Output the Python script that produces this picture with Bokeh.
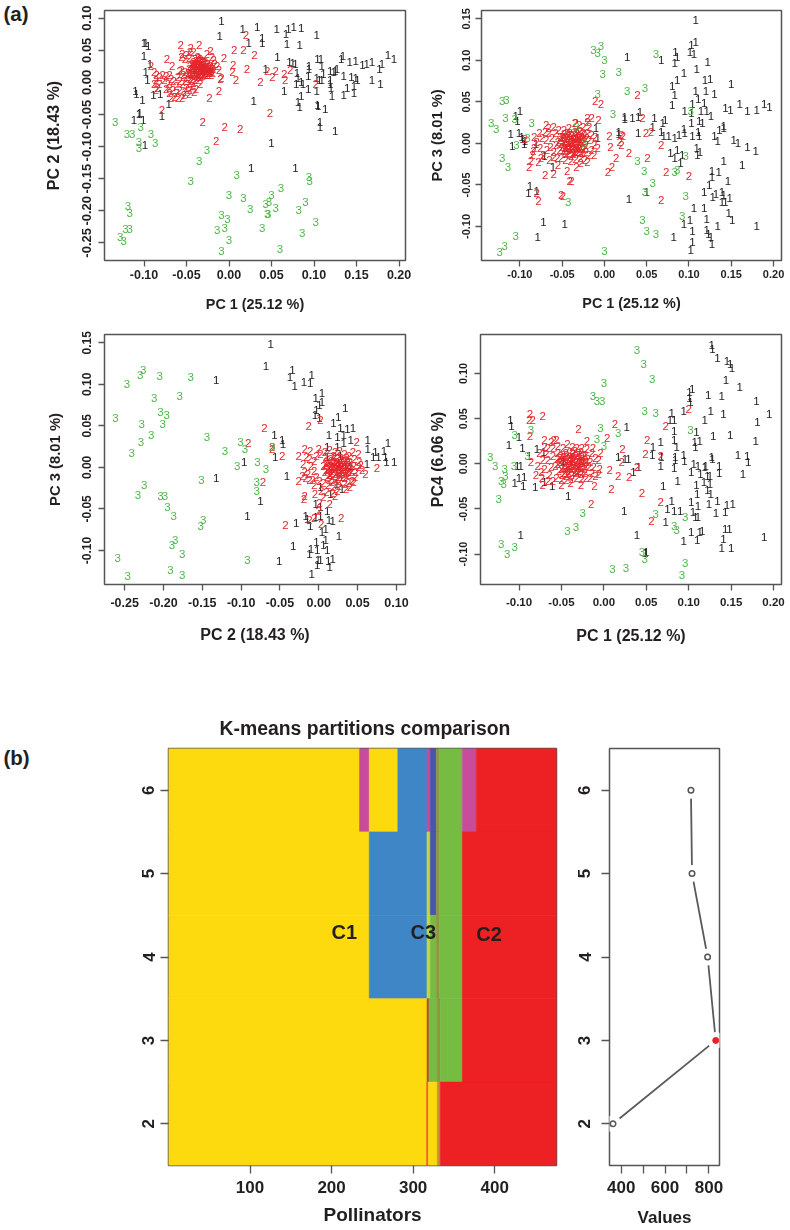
from bokeh.plotting import figure
from bokeh.layouts import column, row
from bokeh.models import ColumnDataSource, FixedTicker, PrintfTickFormatter, Label, Range1d, Title
from bokeh.core.properties import value
from bokeh.embed import file_html
from bokeh.resources import INLINE

FONT = "Liberation Sans"
INK = "#231F20"

# ---------- panel 1: PC1 / PC2 ----------
a1_ones = [(-.009,.096),(-.011,.073),(.016,.083),(.033,.087),(.056,.083),(.067,.076),(.070,.083),(.076,.086),(.085,.085),(.103,.074),
(.023,.062),(.039,.069),(.039,.061),(.068,.060),(.083,.058),(.057,.040),(-.098,.062),(-.100,.061),(-.095,.057),(-.100,.041),(-.093,.028),
(.071,.032),(.075,.030),(.078,.029),(.094,.026),(.104,.037),(.108,.037),(.094,.021),(.109,.025),(.134,.041),(.142,.032),(.149,.033),(.132,.036),
(.187,.043),(.194,.036),(.177,.021),(.180,.028),(.168,.031),(.162,.028),(.157,.027),(.043,.021),(-.098,.016),(-.096,.004),(-.110,-.013),(-.109,-.018),
(-.102,-.028),(-.089,-.019),(-.081,-.018),(-.071,-.034),(-.105,-.047),(-.106,-.049),(-.112,-.058),(-.101,-.058),(-.079,-.052),(-.099,-.097),(.029,-.029),
(.065,-.013),(.080,.014),(.081,.007),(.079,-.002),(.085,.001),(.087,-.002),(.093,.010),(.093,-.010),(.103,.007),(.103,-.013),(.109,.004),(.106,.003),
(.111,.013),(.119,.017),(.125,.018),(.123,.016),(.127,.021),(.135,.010),(.119,.003),(.119,-.003),(.120,-.009),(.121,-.021),(.135,-.020),(.139,-.009),
(.147,-.005),(.147,-.017),(.144,.009),(.149,.007),(.151,.003),(.168,.003),(.178,-.003),(.085,-.021),(.081,-.031),(.083,-.039),(.104,-.035),(.105,-.037),
(.113,-.041),(.107,-.061),(.107,-.070),(.125,-.076),(.050,-.094),(.026,-.133),(.078,-.133)]
a1_twos = [(.020,.074),(.006,.051),(.017,.051),(.030,.043),(-.057,.059),(-.045,.054),(-.035,.059),(-.022,.049),(-.006,.038),(-.073,.036),(-.067,.026),
(-.092,.026),(.005,.027),(.004,.016),(.021,.021),(.045,.018),(.055,.018),(.065,.013),(.072,.020),(.037,.001),(.051,.008),(.066,.003),(.008,.003),
(-.009,.007),(-.010,.005),(-.012,-.014),(-.023,-.025),(-.079,-.043),(.048,-.048),(-.031,-.061),(-.005,-.070),(.013,-.072),(-.015,-.092),(.102,-.003),
(-.037,.040),(-.034,.037),(-.040,.036),(-.031,.034),(-.036,.033),(-.042,.032),(-.028,.031),(-.033,.030),(-.038,.029),(-.044,.028),(-.025,.028),(-.030,.027),
(-.035,.026),(-.040,.026),(-.046,.025),(-.022,.025),(-.027,.024),(-.032,.023),(-.037,.023),(-.043,.022),(-.024,.021),(-.019,.021),(-.029,.020),(-.034,.020),
(-.039,.019),(-.045,.019),(-.021,.018),(-.026,.018),(-.031,.017),(-.036,.016),(-.042,.016),(-.048,.015),(-.023,.015),(-.028,.014),(-.033,.013),(-.019,.014),
(-.038,.012),(-.044,.012),(-.026,.011),(-.031,.010),(-.036,.009),(-.021,.011),
(-.055,.045),(-.050,.043),(-.046,.048),(-.052,.036),(-.047,.038),(-.042,.047),(-.056,.040),(-.026,.045),(-.020,.040),(-.017,.028),(-.014,.025),(-.012,.020),
(-.018,.035),(-.056,.020),(-.052,.016),(-.054,.012),(-.050,.008),(-.046,.006),(-.058,.018),
(-.045,.002),(-.048,-.002),(-.043,-.006),(-.050,-.008),(-.046,-.012),(-.052,-.015),(-.047,-.018),(-.040,.004),(-.042,-.001),(-.039,-.010),(-.055,-.003),
(-.058,.002),(-.060,.008),(-.062,-.005),(-.065,.002),(-.068,.006),(-.070,.012),(-.074,.010),(-.078,.012),(-.082,.008),(-.085,.012),(-.088,.016),(-.086,.004),
(-.088,-.002),(-.084,-.008),(-.086,-.012),(-.082,-.003),(-.076,.003),(-.072,-.002),(-.070,-.008),(-.066,-.012),(-.062,-.016),(-.058,-.012),(-.064,-.022),
(-.068,-.024),(-.060,-.025),(-.055,-.024),(-.053,-.020),(-.070,-.016),(-.074,-.010),(-.036,.003),(-.034,-.002),(-.052,.002),(-.041,-.015),
(-.036,.038),(-.033,.034),(-.039,.033),(-.030,.031),(-.035,.029),(-.041,.029),(-.027,.028),(-.032,.026),(-.037,.026),(-.043,.025),(-.024,.024),(-.029,.023),
(-.034,.023),(-.040,.022),(-.021,.022),(-.026,.021),(-.031,.021),(-.036,.020),(-.042,.019),(-.047,.021),(-.023,.018),(-.028,.017),(-.033,.017),(-.038,.016),
(-.044,.015),(-.020,.016),(-.025,.014),(-.030,.013),(-.035,.013),(-.041,.013),(-.024,.012),(-.029,.011),(-.034,.011),(-.046,.013),(-.039,.010),(-.033,.009)]
a1_threes = [(-.134,-.061),(-.120,-.081),(-.114,-.081),(-.104,-.069),(-.092,-.080),(-.106,-.093),(-.106,-.102),(-.087,-.095),(-.026,-.105),(-.035,-.122),
(-.045,-.154),(.009,-.145),(0,-.176),(.017,-.180),(.025,-.197),(.050,-.176),(.047,-.186),(.043,-.189),(.055,-.196),(.046,-.205),(.045,-.205),(.061,-.165),
(.094,-.148),(.095,-.153),(.090,-.186),(.082,-.199),(.102,-.217),(.086,-.234),(.060,-.259),(.039,-.227),(-.009,-.207),(-.002,-.213),(-.005,-.227),(-.014,-.230),
(0,-.246),(-.009,-.263),(-.119,-.192),(-.117,-.203),(-.122,-.229),(-.117,-.229),(-.128,-.241),(-.124,-.247)]

# ---------- panel 2: PC1 / PC3 ----------
a2_ones = [(.108,.148),(.108,.122),(.103,.118),(.106,.108),(.101,.110),(.084,.110),(.086,.104),(.083,.097),(.067,.100),(.027,.104),(.122,.098),(.109,.089),
(.094,.085),(.086,.076),(.080,.069),(.083,.058),(.119,.076),(.125,.078),(.150,.071),(.108,.063),(.120,.063),(.130,.059),(.111,.053),(.118,.049),(.080,.046),
(.104,.047),(.095,.039),(.103,.037),(.114,.039),(.121,.039),(.126,.033),(.143,.043),(.149,.040),(.160,.047),(.169,.039),(.180,.040),(.189,.047),(.195,.044),
(.103,.025),(.112,.027),(.116,.025),(.136,.016),(.141,.018),(.141,.021),(.072,.028),(.069,.024),(.059,.031),(.024,.032),(.024,.029),(.033,.031),(.040,.032),
(.042,.038),(.057,.020),(.040,.013),(.017,.014),(.067,.014),(.070,.009),(.076,.009),(.083,.007),(.088,.010),(.094,.017),(.095,.013),(.104,.009),(.111,.014),
(.112,.009),(.130,.009),(.134,.003),(.153,.004),(.158,0),(.169,-.004),(.179,-.009),(.109,-.005),(.113,-.010),(.110,-.014),(.078,-.012),(.086,-.008),(.083,-.018),
(.092,-.014),(.090,-.024),(.141,-.021),(.163,-.026),(.127,-.033),(.135,-.034),(.127,-.041),(.124,-.050),(.146,-.045),(.118,-.059),(.132,-.061),(.128,-.065),
(.139,-.059),(.141,-.062),(.139,-.071),(.143,-.071),(.148,-.066),(.106,-.078),(.118,-.078),(.147,-.084),(.151,-.092),(.101,-.092),(.094,-.097),(.121,-.091),
(.134,-.100),(.104,-.106),(.121,-.104),(.123,-.109),(.126,-.113),(.082,-.113),(.104,-.119),(.102,-.128),(.127,-.121),(.180,-.100),(.029,-.067),(.050,-.059),
(-.072,-.095),(-.047,-.097),(-.079,-.113),(-.088,-.051),(-.090,-.060),(-.080,-.057),(-.100,.039),(-.105,.033),(-.103,.027),(-.111,.011),(-.101,.012),(-.098,.008),
(-.097,.005),(-.094,.003),(-.109,-.003),(-.095,-.001),(-.081,-.001),(-.071,-.015),(-.061,-.028),(-.010,.018),(-.008,.007),(.017,.011)]
a2_twos = [(.039,.058),(-.011,.051),(-.004,.047),(.045,.030),(.049,.013),(.055,.014),(.067,-.002),(.006,.009),(.007,-.004),(.020,.010),(.022,.009),(.018,.002),
(.020,-.002),(.014,-.017),(.029,-.012),(.051,-.018),(.009,-.029),(.004,-.034),(.073,-.034),(.100,-.039),(.067,-.068),(-.041,-.045),(-.039,-.045),(-.051,-.062),
(-.049,-.063),(-.080,-.060),(-.078,-.069),(-.070,-.038),(-.060,-.037),(-.044,-.033),(-.028,-.024),(-.033,-.029),(-.089,-.029),(-.087,-.021),(-.084,-.009),(-.094,.005),
(-.020,.031),(-.015,.031),(-.007,.028),(-.035,.024),(-.069,.022),
(-.055,.002),(-.052,.008),(-.050,-.004),(-.048,.011),(-.047,.003),(-.046,-.009),(-.044,.007),(-.043,-.002),(-.042,-.012),(-.041,.012),(-.040,.004),(-.039,-.007),
(-.038,.009),(-.037,0),(-.036,-.013),(-.035,.014),(-.034,.005),(-.033,-.005),(-.032,.011),(-.031,-.010),(-.030,.002),(-.029,.015),(-.028,-.003),(-.027,.008),
(-.026,-.012),(-.025,.012),(-.024,.003),(-.023,-.006),(-.045,-.013),(-.053,-.008),(-.049,.006),(-.041,-.006),(-.038,.002),(-.035,-.009),(-.032,.007),(-.029,-.007),
(-.026,.005),(-.044,.001),(-.047,-.006),(-.034,.001),(-.030,.009),(-.039,-.015),(-.022,-.002),(-.057,-.002),
(-.062,.006),(-.064,-.004),(-.060,-.010),(-.058,.012),(-.066,.012),(-.069,.004),(-.068,-.008),(-.072,-.014),(-.070,.014),(-.074,.006),(-.077,.012),(-.076,-.006),
(-.080,.002),(-.083,-.006),(-.085,-.014),(-.083,.008),(-.060,-.016),(-.056,-.018),(-.051,-.017),(-.046,-.020),(-.040,-.021),(-.034,-.019),(-.028,-.017),(-.023,-.020),
(-.018,-.014),(-.015,-.008),(-.018,.004),(-.015,.010),(-.012,-.002),(-.011,.008),(-.020,.012),(-.018,.020),(-.025,.020),(-.030,.022),(-.034,.024),(-.042,.018),
(-.048,.016),(-.054,.016),(-.060,.020),(-.066,.018),(-.012,-.014),(-.008,-.005),(-.020,-.023),(-.055,-.026),(-.065,-.020),(-.075,-.018),(-.078,-.022),(-.020,.026),
(-.053,.004),(-.051,-.001),(-.050,.008),(-.048,-.008),(-.046,.006),(-.045,-.003),(-.043,.009),(-.042,-.008),(-.040,.000),(-.039,.010),(-.037,-.005),(-.036,.005),
(-.034,-.010),(-.033,.012),(-.031,-.001),(-.030,.006),(-.028,-.012),(-.027,.002),(-.025,-.007),(-.024,.010),(-.022,-.010),(-.021,.006),(-.044,.012),(-.037,-.011),
(-.041,.007),(-.035,.010),(-.030,-.005),(-.026,.000),(-.048,.002),(-.043,-.005),(-.038,-.003),(-.033,-.001)]
a2_threes = [(-.004,.117),(-.013,.112),(-.008,.109),(0,.100),(-.002,.083),(.017,.086),(.061,.108),(.027,.063),(.048,.067),(-.008,.059),(.010,.035),(-.121,.051),
(-.116,.052),(-.134,.025),(-.128,.017),(-.117,.031),(-.106,.029),(-.086,.024),(-.033,.020),(-.091,.006),(-.104,-.002),(-.024,.001),(-.121,-.017),(-.114,-.028),
(.039,-.021),(.047,-.033),(.057,-.048),(.048,-.059),(.083,-.034),(.086,-.032),(.096,-.015),(.096,-.063),(-.043,-.070),(.092,-.087),(.045,-.092),(.050,-.105),
(.061,-.109),(.102,.039),(-.105,-.111),(-.118,-.123),(-.124,-.131),(0,-.130)]

# ---------- panel 3: PC2 / PC3 ----------
a3_ones = [(-.062,.148),(-.068,.122),(-.034,.117),(-.037,.109),(-.031,.098),(-.019,.103),(-.009,.111),(-.011,.102),(-.132,.105),(.004,.090),(-.004,.084),(.001,.075),
(.004,.079),(-.003,.069),(-.005,.063),(.001,.059),(.034,.071),(.025,.061),(.019,.053),(.028,.047),(.037,.046),(.044,.047),(.013,.039),(.024,.037),(.032,.039),
(-.057,.039),(-.047,.033),(-.046,.028),(-.056,.012),(.041,.033),(.063,.033),(.063,.022),(.089,.029),(.073,.019),(.084,.020),(.070,.013),(.077,.012),(.086,.012),
(.087,.006),(.097,.006),(-.096,.006),(-.132,-.013),(-.041,-.010),(-.075,-.040),(-.092,-.059),(.011,.025),(.024,.025),(.032,.029),(.011,.012),(.028,.014),(.026,.004),
(.041,.002),(.062,.004),(.023,-.020),(.030,-.026),(.002,-.024),(.015,-.032),(-.004,-.044),(.002,-.048),(.011,-.052),(-.017,-.059),(-.015,-.062),(-.004,-.060),
(-.011,-.070),(.002,-.058),(.013,-.063),(.018,-.064),(-.029,-.067),(.004,-.078),(.009,-.074),(.026,-.083),(-.033,-.095),(-.003,-.090),(-.010,-.098),(-.002,-.099),
(-.012,-.104),(.009,-.088),(.006,-.094),(.011,-.100),(-.051,-.113),(-.001,-.111),(.002,-.111),(.012,-.113),(.018,-.110),(-.002,-.118),(.014,-.120),(-.009,-.128)]
a3_twos = [(-.070,.048),(-.013,.050),(-.091,.029),(-.060,.025),(-.060,.022),(-.047,.014),(-.072,-.017),(-.018,.022),(-.011,.020),(-.026,.014),(-.026,-.016),(-.021,-.010),
(.049,.031),(.051,.016),(.075,-.001),(.060,-.008),(-.018,-.035),(-.019,-.038),(.021,-.034),(.014,-.044),(.001,-.043),(0,-.052),(-.043,-.069),(-.012,-.063),(-.006,-.061),
(.003,-.068),(.029,-.061),(.002,.057),
(.006,.002),(.008,-.006),(.010,.007),(.011,-.012),(.013,.001),(.014,-.015),(.015,.010),(.016,-.004),(.018,.005),(.019,-.010),(.020,.012),(.021,-.001),(.022,-.014),
(.023,.007),(.024,-.006),(.026,.002),(.027,-.011),(.028,.011),(.029,-.003),(.030,.006),(.032,-.008),(.033,.001),(.034,-.013),(.035,.009),(.036,-.004),(.038,.003),
(.039,-.009),(.040,.000),(.012,-.002),(.017,.001),(.025,-.002),(.031,.003),(.037,.006),(.043,-.003),(.045,.002),(.009,.012),(.019,.014),(.027,-.016),(.017,-.017),
(.048,-.006),(.051,.000),(.054,.003),(.056,-.003),(.052,.006),(.046,.010),(.047,-.012),(.043,-.016),(.038,-.019),(.033,-.020),(.026,-.022),(.019,-.024),(.012,-.021),
(.006,-.019),(.001,-.016),(-.003,-.011),(-.006,-.004),(-.010,.002),(-.014,-.008),(-.012,.010),(-.008,-.015),(-.006,.008),(-.003,.014),(.002,.016),(.008,.019),(.014,.021),
(.021,.019),(.027,.020),(.033,.016),(.039,.014),(.044,.018),(.003,-.028),(-.006,-.021),(.010,-.030),(.018,-.031),(.006,-.036),(-.005,-.032),(-.018,-.006),(-.020,.004),
(-.016,.012),(.040,-.024),(.045,-.017),(.035,-.026),(.024,-.028),(.000,.022),(-.012,-.015),(-.017,-.013),
(.008,.003),(.010,-.003),(.012,.005),(.013,-.009),(.015,.002),(.016,.008),(.017,-.007),(.019,.001),(.020,.007),(.021,-.008),(.023,.000),(.024,.011),(.025,-.011),(.027,.005),
(.028,-.005),(.030,.000),(.031,-.011),(.033,.006),(.034,-.002),(.035,-.007),(.037,.001),(.038,-.006),(.040,.006),(.041,-.005),(.015,-.009),(.022,.004),(.029,.009),(.036,.011),
(.024,.002),(.018,-.002),(.032,-.002),(.026,-.007)]
a3_threes = [(-.226,.117),(-.230,.111),(-.205,.110),(-.247,.101),(-.165,.109),(-.212,.083),(-.179,.086),(-.262,.060),(-.204,.067),(-.196,.063),(-.201,.052),(-.228,.052),
(-.216,.039),(-.229,.031),(-.241,.017),(-.144,.036),(-.101,.030),(-.095,.022),(-.121,.020),(-.060,.025),(-.105,.002),(-.079,.006),(-.068,-.002),(-.151,-.015),(-.080,-.017),
(-.080,-.028),(-.225,-.021),(-.233,-.033),(-.204,-.034),(-.198,-.035),(-.195,-.048),(-.187,-.059),(-.149,-.063),(-.152,-.070),(-.185,-.087),(-.189,-.093),(-.176,-.104),
(-.191,-.123),(-.176,-.130),(-.259,-.109),(-.246,-.131),(-.092,-.111)]

# ---------- panel 4: PC1 / PC4 ----------
a4_ones = [(.127,.132),(.128,.127),(.134,.117),(.145,.114),(.149,.110),(.151,.106),(.144,.093),(.160,.085),(.104,.083),(.101,.079),(.101,.073),(.102,.068),(.123,.076),
(.139,.075),(.180,.069),(.080,.056),(.094,.059),(.126,.058),(.141,.055),(.119,.049),(.195,.055),(.181,.046),(.078,.048),(.083,.048),(.027,.041),(-.110,.048),(-.109,.042),
(-.100,.030),(-.112,.021),(-.096,.018),(.083,.036),(.109,.035),(.129,.031),(.149,.032),(.179,.025),(.067,.024),(.058,.019),(.083,.026),(.086,.019),(.107,.024),(.113,.025),
(.108,.019),(.017,.007),(.025,.005),(.029,.005),(.057,.010),(.068,.008),(.084,.007),(.094,.010),(.127,.008),(.128,.005),(.158,.010),(.169,.009),(.170,.002),(-.048,.003),
(.067,-.003),(.083,-.005),(.084,.004),(.095,.003),(.106,0),(.103,-.009),(.111,-.003),(.120,-.002),(.119,-.004),(.136,-.003),(.136,-.010),(.114,-.011),(.122,-.013),(.125,-.014),
(.164,-.011),(.041,-.004),(.035,-.009),(.087,-.019),(.070,-.025),(.109,-.023),(.118,-.020),(.125,-.022),(.122,-.029),(.126,-.033),(.110,-.034),(-.042,-.036),(-.102,-.002),
(-.098,-.002),(-.094,-.015),(-.100,-.016),(-.105,-.021),(-.095,-.025),(-.081,-.026),(-.061,-.025),(-.070,-.020),(-.088,.009),(-.071,.013),(-.079,.016),(.024,-.052),(.080,-.041),
(.075,-.050),(.083,-.052),(.090,-.052),(.103,-.042),(.105,-.053),(.111,-.047),(.124,-.044),(.134,-.041),(.145,-.046),(.152,-.044),(.143,-.053),(.132,-.054),(.108,-.059),
(.111,-.059),(.073,-.064),(.143,-.072),(.148,-.072),(.116,-.074),(.113,-.075),(.103,-.075),(.039,-.079),(-.098,-.079),(.094,-.085),(.110,-.084),(.141,-.083),(.189,-.081),
(.139,-.093),(.150,-.093),(.050,-.098),(.049,-.099)]
a4_twos = [(-.087,.055),(-.072,.053),(-.088,.048),(-.084,.049),(-.087,.031),(-.030,.038),(.013,.044),(.004,.029),(.022,.016),(.021,.002),(.051,.026),(.049,.011),(.073,.042),
(.100,.061),(.067,.009),(.039,-.004),(.030,-.015),(.017,-.014),(.007,-.007),(.009,-.028),(.045,-.032),(.067,-.042),(.056,-.063),(-.015,-.044),(-.011,-.025),(-.006,-.011),
(-.027,-.023),(-.039,-.021),(-.050,-.023),(-.072,-.024),(-.086,.002),(-.070,.026),(-.059,.026),(-.020,.025),(-.004,.012),(-.013,.018),
(-.057,-.002),(-.055,.005),(-.053,-.008),(-.051,.009),(-.049,-.012),(-.048,.002),(-.046,-.005),(-.045,.012),(-.044,-.014),(-.043,.005),(-.042,-.008),(-.040,.013),(-.039,-.001),
(-.038,-.012),(-.037,.008),(-.035,-.005),(-.034,.014),(-.033,.002),(-.032,-.010),(-.031,.010),(-.030,-.002),(-.029,.006),(-.028,-.008),(-.027,.013),(-.026,.001),(-.025,-.005),
(-.024,.009),(-.023,-.010),(-.022,.004),(-.021,-.002),(-.047,-.001),(-.041,.003),(-.036,.000),(-.031,.004),(-.052,.002),(-.045,.007),(-.038,.005),(-.033,-.007),(-.027,-.003),
(-.042,-.003),(-.019,.005),(-.018,-.004),
(-.060,.009),(-.062,-.004),(-.064,-.012),(-.066,.004),(-.068,.011),(-.070,-.006),(-.073,-.016),(-.072,.004),(-.076,.012),(-.078,-.002),(-.080,-.012),(-.060,.018),(-.054,.020),
(-.048,.018),(-.043,.022),(-.037,.019),(-.032,.017),(-.026,.017),(-.020,.016),(-.014,.012),(-.016,.002),(-.012,-.004),(-.010,.006),(-.014,-.010),(-.010,-.013),(-.016,-.016),
(-.021,-.016),(-.026,-.017),(-.032,-.016),(-.038,-.017),(-.044,-.018),(-.050,-.018),(-.056,-.016),(-.060,-.019),(-.066,-.019),(-.006,.004),(-.005,-.006),(-.066,.018),(-.070,.019),
(-.062,.024),(-.054,.012),(-.074,-.009),(-.056,.026),
(-.054,.000),(-.052,.006),(-.050,-.006),(-.048,.008),(-.047,-.010),(-.045,.001),(-.044,.010),(-.043,-.011),(-.041,-.002),(-.040,.008),(-.038,-.006),(-.037,.012),(-.036,.003),
(-.034,-.009),(-.033,.009),(-.031,-.005),(-.030,.012),(-.029,.001),(-.027,-.011),(-.026,.008),(-.025,.003),(-.023,-.006),(-.022,.010),(-.021,.002),(-.044,-.005),(-.039,.003),
(-.035,.005),(-.030,-.008),(-.028,.003),(-.049,.004),(-.041,-.010),(-.036,-.003)]
a4_threes = [(.039,.126),(.047,.111),(.057,.094),(0,.089),(-.013,.075),(-.008,.070),(-.002,.070),(.048,.059),(.061,.056),(-.004,.040),(.017,.034),(-.105,.032),(-.086,.037),
(-.008,.028),(0,.020),(.102,.037),(-.134,.007),(-.128,-.003),(-.117,-.006),(-.106,-.003),(-.090,.009),(-.116,-.013),(-.121,-.019),(-.118,-.022),(-.124,-.039),(.061,-.056),
(.096,-.059),(-.025,-.055),(-.033,-.070),(-.043,-.074),(.083,-.069),(.086,-.073),(-.121,-.089),(-.105,-.092),(-.114,-.100),(.045,-.098),(.048,-.105),(.096,-.110),(.092,-.123),
(.026,-.115),(.010,-.117)]

# ---------- panel b: partitions and criterion ----------
k_rows = [6, 5, 4, 3, 2]
row_ends = {
    6: [234.3, 246.2, 281.2, 317, 321, 328.4, 332, 360.3, 377.5, 476],
    5: [246.2, 317, 321, 328.4, 332, 360.3, 476],
    4: [246.2, 317, 321, 328.4, 332, 360.3, 476],
    3: [317, 319.5, 329.6, 333.3, 360.3, 476],
    2: [316.5, 318.6, 329.6, 333.3, 476],
}
YEL, PNK, BLU, DBL, OLV, GRN, RED, LIM = "#FDDA0E", "#C94C9C", "#3F86C6", "#4A55A8", "#8F9440", "#76BC43", "#ED2024", "#C8D640"
row_colors = {
    6: [YEL, PNK, YEL, BLU, PNK, DBL, OLV, GRN, PNK, RED],
    5: [YEL, BLU, LIM, DBL, OLV, GRN, RED],
    4: [YEL, BLU, LIM, GRN, OLV, GRN, RED],
    3: [YEL, "#B5502A", GRN, OLV, GRN, RED],
    2: [YEL, "#EE5A24", YEL, "#C49030", RED],
}
crit_k = [2, 3, 4, 5, 6]
crit_v = [363, 831, 794, 723, 718]

LAYER = {"will-change": "transform"}


def panel(xr, yr, w, h, ml, mr, mt, mb, xticks, yticks, xlabel, ylabel, xfs, yfs, xlfs, ylfs,
          xstand, ystand, ylstand, xlstand=14, tick_out=6):
    p = figure(width=w, height=h, x_range=Range1d(*xr), y_range=Range1d(*yr), output_backend="svg",
               toolbar_location=None, min_border_left=ml, min_border_right=mr, min_border_top=mt, min_border_bottom=mb,
               styles=LAYER)
    p.grid.visible = False
    p.outline_line_color = "#555555"
    p.outline_line_width = 1.5
    p.background_fill_color = "white"
    p.border_fill_color = "white"
    for ax, tk, fs, lab, lfs, st, lst in ((p.xaxis[0], xticks, xfs, xlabel, xlfs, xstand, xlstand),
                                          (p.yaxis[0], yticks, yfs, ylabel, ylfs, ystand, ylstand)):
        ax.ticker = FixedTicker(ticks=tk)
        ax.axis_line_color = None
        ax.major_tick_line_color = "#555555"
        ax.major_tick_line_width = 1.3
        ax.major_tick_out = tick_out
        ax.major_tick_in = 0
        ax.minor_tick_line_color = None
        ax.major_label_text_font = FONT
        ax.major_label_text_font_style = "bold"
        ax.major_label_text_font_size = f"{fs}px"
        ax.major_label_text_color = INK
        ax.major_label_standoff = st
        if lab:
            ax.axis_label = lab
            ax.axis_label_text_font = FONT
            ax.axis_label_text_font_style = "bold"
            ax.axis_label_text_font_size = f"{lfs}px"
            ax.axis_label_text_color = INK
            ax.axis_label_standoff = lst
    p.yaxis[0].major_label_orientation = "vertical"
    return p


def pc_format(p):
    p.xaxis[0].formatter = PrintfTickFormatter(format="%.2f")
    p.yaxis[0].formatter = PrintfTickFormatter(format="%.2f")


def digits(p, pts, ch, color):
    src = ColumnDataSource(dict(x=[a for a, _ in pts], y=[b for _, b in pts], t=[ch] * len(pts)))
    p.text("x", "y", text="t", source=src, text_color=color, text_font=value(FONT), text_font_size="11.5px",
           text_align="center", text_baseline="middle")


def side_tag(txt, w, h, from_top):
    p = figure(width=w, height=h, x_axis_location=None, y_axis_location=None, output_backend="svg", toolbar_location=None,
               x_range=Range1d(0, w), y_range=Range1d(h, 0), min_border=0)
    p.grid.visible = False
    p.outline_line_color = None
    p.text([3], [from_top], text=[txt], text_font=value(FONT), text_font_style="bold", text_font_size="20.5px",
           text_color=INK, text_align="left", text_baseline="middle")
    return p


BLACK, RED2, GREEN = "#1c1c1c", "#E3262B", "#4DB848"
pc_ticks = [-.25, -.20, -.15, -.10, -.05, 0, .05, .10, .15, .20]
TAGW = 32

a1 = panel((-.1465, .2076), (-.2775, .112), 425 - TAGW, 320, 104 - TAGW, 20, 10, 60, pc_ticks[3:], pc_ticks[:8],
           "PC 1 (25.12 %)", "PC 2 (18.43 %)", 12.5, 13, 14.4, 16, 3, 7, 18)
a2 = panel((-.1454, .2094), (-.141, .160), 365, 320, 55, 9, 10, 60, pc_ticks[3:], pc_ticks[3:9],
           "PC 1 (25.12 %)", "PC 3 (8.01 %)", 11, 11, 14.4, 14.7, 3, 5, 15)
a3 = panel((-.276, .1117), (-.141, .160), 425, 330, 104, 20, 14, 66, pc_ticks[:8], pc_ticks[3:9],
           "PC 2 (18.43 %)", "PC 3 (8.01 %)", 12.5, 12, 16, 14.8, 7, 7, 17, 16)
a4 = panel((-.1454, .2094), (-.1337, .1432), 365, 330, 55, 9, 14, 66, pc_ticks[3:], pc_ticks[3:8],
           "PC 1 (25.12 %)", "PC4 (6.06 %)", 11.5, 10.8, 16, 15.9, 7, 7, 11, 18)
for p, o, t, g in ((a1, a1_ones, a1_twos, a1_threes), (a2, a2_ones, a2_twos, a2_threes),
                   (a3, a3_ones, a3_twos, a3_threes), (a4, a4_ones, a4_twos, a4_threes)):
    pc_format(p)
    digits(p, o, "1", BLACK)
    digits(p, t, "2", RED2)
    digits(p, g, "3", GREEN)

tag_a = side_tag("(a)", TAGW, 320, 13)
tag_b = side_tag("(b)", TAGW, 580, 12.5)

b1 = panel((0, 475.8), (1.5, 6.5), 560 - TAGW, 580, 168 - TAGW, 4, 98, 65, [100, 200, 300, 400], [2, 3, 4, 5, 6],
           None, None, 17, 17, 0, 0, 7, 6, 0, tick_out=8)
for k in k_rows:
    ends = row_ends[k]
    b1.quad(left=[0] + ends[:-1], right=ends, bottom=k - .5, top=k + .5, fill_color=row_colors[k],
            line_color=row_colors[k], line_width=0.6)
for txt, x, k in (("C1", 215.5, 4.3), ("C3", 312.5, 4.3), ("C2", 393, 4.27)):
    b1.add_layout(Label(x=x, y=k, text=txt, text_font=FONT, text_font_style="bold", text_font_size="20px",
                        text_color=INK, text_align="center", text_baseline="middle"))
b1.add_layout(Title(text="Pollinators", align="left", offset=155, text_font=FONT, text_font_style="bold",
                    text_font_size="19px", text_color=INK, standoff=12), "below")
b1.title.text = "K-means partitions comparison"
b1.title.align = "left"
b1.title.offset = 51
b1.title.text_font = FONT
b1.title.text_font_style = "bold"
b1.title.text_font_size = "19.4px"
b1.title.text_color = INK
b1.title.standoff = 19

b2 = panel((346.8, 848.2), (1.5, 6.5), 230, 580, 49, 71, 98, 65, [400, 500, 600, 700, 800], [2, 3, 4, 5, 6],
           "Values", None, 17, 17, 17, 0, 7, 11, 0, 12, tick_out=8)
b2.xaxis[0].major_label_overrides = {500: "", 700: ""}
b2.line(crit_v, crit_k, line_color="#5a5a5a", line_width=1.8)
b2.scatter(crit_v, crit_k, size=17, fill_color="white", line_color=None)
b2.scatter([v for v, k in zip(crit_v, crit_k) if k != 3], [k for k in crit_k if k != 3], size=5.5,
           fill_color="white", line_color="#555555", line_width=1.5)
b2.scatter([v for v, k in zip(crit_v, crit_k) if k == 3], [3], size=6, fill_color="#ED2024", line_color="#ED2024")

page = column(row(column(tag_a, spacing=0), a1, a2, spacing=0), row(a3, a4, spacing=0), row(tag_b, b1, b2, spacing=0), spacing=0, margin=0)
open("out.html", "w").write(file_html(page, INLINE))
